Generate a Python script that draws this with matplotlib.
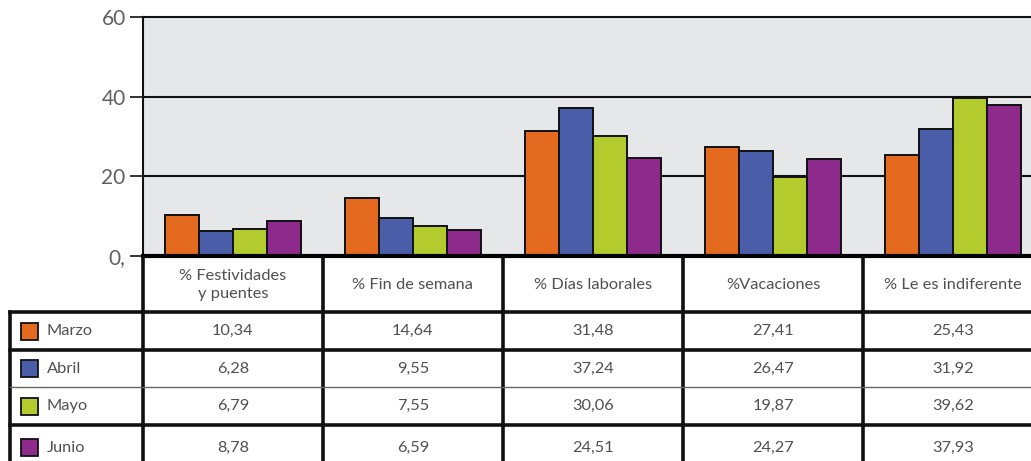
import matplotlib.pyplot as plt
from matplotlib.patches import Rectangle

categorias = ["% Festividades\ny puentes", "% Fin de semana", "% Días laborales",
              "%Vacaciones", "% Le es indiferente"]
meses = ["Marzo", "Abril", "Mayo", "Junio"]
marzo = [10.34, 14.64, 31.48, 27.41, 25.43]
abril = [6.28, 9.55, 37.24, 26.47, 31.92]
mayo = [6.79, 7.55, 30.06, 19.87, 39.62]
junio = [8.78, 6.59, 24.51, 24.27, 37.93]
series = [marzo, abril, mayo, junio]
colores = ['#e46a1f', '#4a5da8', '#b4cb2e', '#8e2a8b']
yticks = [0, 20, 40, 60]
ytick_labels = ["0,", "20", "40", "60"]

W, H = 1031, 461
plt.rcParams['font.family'] = ['Lato', 'DejaVu Sans']
fig = plt.figure(figsize=(W / 100, H / 100), dpi=100)
txt = '#505050'

# eje principal (se sale un poco por la derecha, como en el original)
x0, x1, ytop, ybot = 143, 1043, 17, 256
ax = fig.add_axes([x0 / W, (H - ybot) / H, (x1 - x0) / W, (ybot - ytop) / H])
ax.set_facecolor('#e6e7e9')
n = len(categorias)
bw = 0.19
for j, vals in enumerate(series):
    xs = [i + 0.5 + (j - 1.5) * bw for i in range(n)]
    ax.bar(xs, vals, width=bw, color=colores[j], edgecolor='#111111', linewidth=1.4, zorder=3)
ax.set_xlim(0, n)
ax.set_ylim(0, 60)
ax.set_yticks(yticks)
ax.set_yticklabels(ytick_labels)
ax.set_xticks([])
for y in [20, 40]:
    ax.axhline(y, color='#111111', lw=1.5, zorder=1)
ax.tick_params(axis='y', length=9.5, width=1.2, color='#111111', labelsize=15, labelcolor='#606060', pad=3)
for s in ['top', 'left']:
    ax.spines[s].set_linewidth(1.5)
    ax.spines[s].set_color('#111111')
ax.spines['bottom'].set_linewidth(3)
ax.spines['right'].set_visible(False)
ax.spines['bottom'].set_zorder(4)

# tabla de datos en coordenadas de píxel
tax = fig.add_axes([0, 0, 1, 1])
tax.set_xlim(0, W)
tax.set_ylim(H, 0)
tax.axis('off')
col_x = [x0 + i * 180 for i in range(n + 1)]
label_x0 = 10
row_y = [258, 312, 350, 387, 425, 470]

lw_k = 2.6
fs = 11.8
# cabecera
for i in range(n):
    tax.text((col_x[i] + col_x[i + 1]) / 2, (row_y[0] + row_y[1]) / 2, categorias[i],
             ha='center', va='center', fontsize=fs, color=txt, linespacing=1.35)
# filas
for j, mes in enumerate(meses):
    yc = (row_y[j + 1] + row_y[j + 2]) / 2
    tax.add_patch(Rectangle((21, yc - 8.5), 17, 17, facecolor=colores[j], edgecolor='#111111', lw=1.3))
    tax.text(47, yc, mes, ha='left', va='center', fontsize=fs, color=txt)
    for i in range(n):
        tax.text((col_x[i] + col_x[i + 1]) / 2, yc, f"{series[j][i]:.2f}".replace('.', ','),
                 ha='center', va='center', fontsize=fs, color=txt)

# líneas de la tabla
for xv in col_x:
    tax.plot([xv, xv], [row_y[0], H + 5], color='#111111', lw=lw_k)
tax.plot([label_x0, label_x0], [row_y[1], H + 5], color='#111111', lw=lw_k)
for k, yv in enumerate(row_y[1:5]):
    lw = 1.0 if k == 2 else lw_k
    c = '#666666' if k == 2 else '#111111'
    tax.plot([label_x0, W + 5], [yv, yv], color=c, lw=lw)

fig.savefig('out.png', dpi=100)
